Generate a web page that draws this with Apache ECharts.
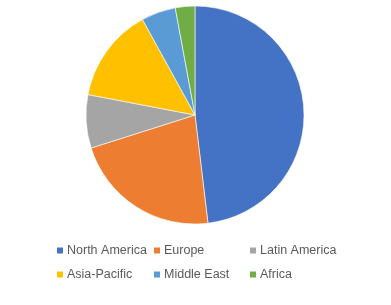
<!DOCTYPE html>
<html><head><meta charset="utf-8">
<script src="https://cdn.jsdelivr.net/npm/echarts@6/dist/echarts.min.js"></script>
<style>html,body{margin:0;padding:0;background:#fff}#c{width:391px;height:305px}</style>
</head><body><div id="c"></div>
<script>
const categories = ['North America', 'Europe', 'Latin America', 'Asia-Pacific', 'Middle East', 'Africa'];
const values = [48.1, 22.0, 7.9, 14.0, 5.1, 2.9];
const colors = ['#4472C4', '#ED7D31', '#A5A5A5', '#FFC000', '#5B9BD5', '#70AD47'];
const legendPos = [[55, 243.5], [152, 243.5], [248, 243.5], [55, 267.5], [152, 267.5], [248, 267.5]];

const chart = echarts.init(document.getElementById('c'));
chart.setOption({
  animation: false,
  color: colors,
  legend: categories.map((n, i) => ({
    data: [n], left: legendPos[i][0], top: legendPos[i][1], padding: 0,
    itemWidth: 8, itemHeight: 8, itemGap: 0, icon: 'rect',
    textStyle: { fontSize: 12.5, color: '#595959', fontFamily: 'Liberation Sans, Arial, sans-serif', lineHeight: 14, padding: [0,0,0,-2] }
  })),
  series: [{
    type: 'pie', center: [195, 115], radius: 109, startAngle: 90, clockwise: true,
    label: { show: false }, labelLine: { show: false },
    itemStyle: { borderColor: '#fff', borderWidth: 0.6 },
    emphasis: { disabled: true },
    data: categories.map((n, i) => ({ name: n, value: values[i] }))
  }]
});
</script></body></html>
